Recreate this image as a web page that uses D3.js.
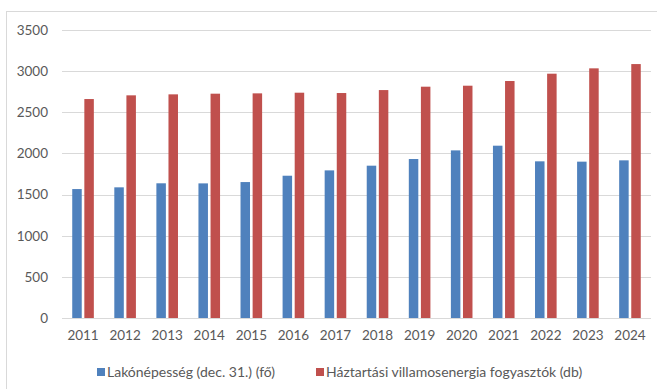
<!DOCTYPE html>
<html>
<head>
<meta charset="utf-8">
<script src="https://cdn.jsdelivr.net/npm/d3@7"></script>
<style>
  html, body { margin: 0; padding: 0; background: #fff; }
  svg { display: block; }
  text { font-family: Lato, "Open Sans", "Noto Sans", sans-serif; fill: #595959; }
</style>
</head>
<body>
<svg id="chart" width="657" height="389"></svg>
<script>
const years = ["2011","2012","2013","2014","2015","2016","2017","2018","2019","2020","2021","2022","2023","2024"];
const population = [1567,1588,1637,1636,1652,1729,1794,1851,1932,2037,2094,1904,1900,1916];
const consumers = [2661,2706,2718,2726,2730,2738,2734,2770,2811,2823,2880,2969,3034,3086];
const seriesNames = ["Lakónépesség (dec. 31.) (fő)", "Háztartási villamosenergia fogyasztók (db)"];
const seriesColors = ["#4F81BD", "#C0504D"];
const yTicks = [0,500,1000,1500,2000,2500,3000,3500];

const svg = d3.select("#chart");

// outer frame
svg.append("rect")
  .attr("x", 6.5).attr("y", 11.5)
  .attr("width", 700).attr("height", 400)
  .attr("fill", "none").attr("stroke", "#D9D9D9").attr("stroke-width", 1);

const plotL = 62, plotR = 651, plotT = 30, plotB = 318;

const x = d3.scaleBand().domain(years).range([plotL, plotR]).paddingInner(0).paddingOuter(0);
const y = d3.scaleLinear().domain([0, 3500]).range([plotB, plotT]);

// gridlines
svg.append("g").selectAll("line").data(yTicks).join("line")
  .attr("x1", plotL).attr("x2", plotR)
  .attr("y1", d => Math.round(y(d)) + 0.5).attr("y2", d => Math.round(y(d)) + 0.5)
  .attr("stroke", "#D9D9D9").attr("stroke-width", 1);

// y axis labels
const yAxis = d3.axisLeft(y).tickValues(yTicks).tickFormat(d3.format("d")).tickSize(0).tickPadding(0);
const yg = svg.append("g").attr("transform", `translate(48,0)`).call(yAxis);
yg.select(".domain").remove();
yg.selectAll("text").attr("font-size", 13.5).style("fill", "#595959")
  .style("font-family", 'Lato, "Open Sans", sans-serif');

// x axis labels
const xAxis = d3.axisBottom(x).tickSize(0).tickPadding(0);
const xg = svg.append("g").attr("transform", `translate(0,${plotB + 12})`).call(xAxis);
xg.select(".domain").remove();
xg.selectAll("text").attr("font-size", 13.5).style("fill", "#595959")
  .style("font-family", 'Lato, "Open Sans", sans-serif');

// bars
const barW = 9.5, gap = 2.6;
const seriesData = [population, consumers];
seriesData.forEach((vals, si) => {
  svg.append("g").selectAll("rect").data(vals).join("rect")
    .attr("x", (d, i) => x(years[i]) + x.bandwidth() / 2 - (barW + gap / 2) + si * (barW + gap))
    .attr("y", d => y(d))
    .attr("width", barW)
    .attr("height", d => y(0) - y(d))
    .attr("fill", seriesColors[si]);
});

// legend
const legendItems = [
  { x: 97, name: seriesNames[0], color: seriesColors[0] },
  { x: 316, name: seriesNames[1], color: seriesColors[1] }
];
const lg = svg.append("g");
legendItems.forEach(it => {
  lg.append("rect").attr("x", it.x).attr("y", 368).attr("width", 8).attr("height", 8).attr("fill", it.color);
  lg.append("text").attr("x", it.x + 10).attr("y", 376.5).attr("font-size", 14).text(it.name);
});
</script>
</body>
</html>
